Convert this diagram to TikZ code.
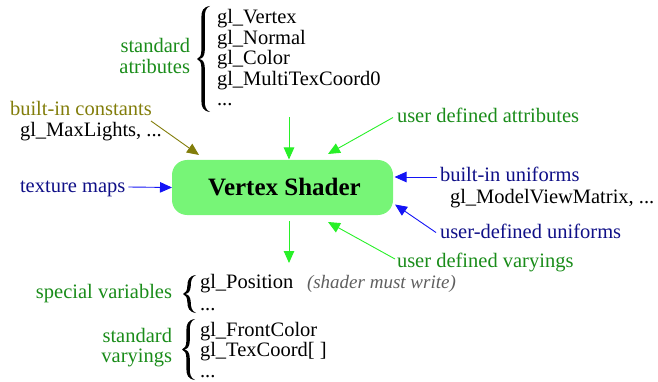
\documentclass[tikz,border=0pt]{standalone}
\usepackage{fontspec}
\setmainfont{Liberation Serif}
\usetikzlibrary{arrows.meta,calc}
\definecolor{tgreen}{RGB}{25,140,25}
\definecolor{agreen}{RGB}{40,240,40}
\definecolor{tnavy}{RGB}{15,15,135}
\definecolor{ablue}{RGB}{20,20,245}
\definecolor{tolive}{RGB}{130,125,10}
\definecolor{boxgreen}{RGB}{119,245,119}
\definecolor{tgray}{RGB}{95,95,95}
% left curly brace: x of middle tip, top y, bottom y (y grows downward)
\newcommand{\mybrace}[3]{%
 \pgfmathsetmacro\bm{(#2+#3)/2}%
 \fill (#1+13,#2) .. controls (#1+6,#2+1) and (#1+4.4,#2+5) .. (#1+4.4,#2+11)
   -- (#1+4.4,\bm-9) .. controls (#1+4.4,\bm-3) and (#1+2.5,\bm-1) .. (#1,\bm)
   .. controls (#1+2.5,\bm+1) and (#1+4.4,\bm+3) .. (#1+4.4,\bm+9)
   -- (#1+4.4,#3-11) .. controls (#1+4.4,#3-5) and (#1+6,#3-1) .. (#1+13,#3)
   .. controls (#1+8.5,#3-2) and (#1+7.8,#3-6) .. (#1+7.8,#3-11)
   -- (#1+7.8,\bm+9) .. controls (#1+7.8,\bm+3) and (#1+5.5,\bm+0.6) .. (#1+2.4,\bm)
   .. controls (#1+5.5,\bm-0.6) and (#1+7.8,\bm-3) .. (#1+7.8,\bm-9)
   -- (#1+7.8,#2+11) .. controls (#1+7.8,#2+6) and (#1+8.5,#2+2) .. cycle;}
\begin{document}
\begin{tikzpicture}[x=1pt,y=-1pt,
  every node/.style={inner sep=0pt,outer sep=0pt,font=\fontsize{20.5}{20.6}\selectfont},
  txt/.style={anchor=base west},
  rtxt/.style={anchor=base east,align=right},
  shaderbox/.style={draw=none,fill=boxgreen,rounded corners=15pt,minimum width=221pt,minimum height=55pt},
  arr/.style={-{Triangle[length=12pt,width=10.5pt]},line width=0.9pt}]
\useasboundingbox (0,0) rectangle (658,382);

% main box
\node[shaderbox] (vs) at (282.5,187.5) {};
\node[anchor=base] (vst) at (284.5,196) {\fontsize{25}{26}\selectfont\bfseries Vertex Shader};

% standard attributes
\node[rtxt,text=tgreen] (sa1) at (190,53) {standard};
\node[rtxt,text=tgreen] (sa2) at (190,73.5) {atributes};
\mybrace{197}{6}{112}
\node[txt] (v1) at (217,24) {gl\_Vertex};
\node[txt] (v2) at (217,44.5) {gl\_Normal};
\node[txt] (v3) at (217,65) {gl\_Color};
\node[txt] (v4) at (217,85.5) {gl\_MultiTexCoord0};
\node[txt] (v5) at (217,106) {...};

% built-in constants
\node[txt,text=tolive] (bic) at (10,116) {built-in constants};
\node[txt] (maxl) at (20,137) {gl\_MaxLights, ...};
\coordinate (bicS) at (151,121);
\draw[arr,tolive] (bicS) -- ($(vs.north west)+(27,-5)$);

% top arrows
\coordinate (topS) at (289,117);
\draw[arr,agreen] (topS) -- (289,159.5);
\node[txt,text=tgreen] (uda) at (397,122.5) {user defined attributes};
\draw[arr,agreen] ($(uda.base west)+(-4,-5)$) -- (328,154);

% texture maps
\node[txt,text=tnavy] (tex) at (20,193) {texture maps};
\draw[arr,ablue] ($(tex.base east)+(3,-6)$) -- (vs.west |- 0,187.5);

% built-in uniforms
\node[txt,text=tnavy] (biu) at (440,182) {built-in uniforms};
\node[txt] (mvm) at (450,203.5) {gl\_ModelViewMatrix, ...};
\draw[arr,ablue] ($(biu.base west)+(-3,-5)$) -- (394.5,177);
\node[txt,text=tnavy] (udu) at (440,238.5) {user-defined uniforms};
\draw[arr,ablue] ($(udu.base west)+(-4,-6)$) -- (395,204.5);

% output arrow
\coordinate (botE) at (289,263);
\draw[arr,agreen] (289,221) -- (botE);
\node[txt,text=tgreen] (udv) at (397,267) {user defined varyings};
\draw[arr,agreen] ($(udv.base west)+(-2,-8)$) -- (328,222);

% special variables
\node[rtxt,text=tgreen] (spv) at (172,298.5) {special variables};
\mybrace{183}{275}{313}
\node[txt] (pos) at (200,288.5) {gl\_Position};
\node[txt,text=tgray] (must) at (307,288.5) {\fontsize{19}{20}\selectfont\itshape (shader must write)};
\node[txt] (pd) at (200,310) {...};

% standard varyings
\node[rtxt,text=tgreen] (sv1) at (172,342.5) {standard};
\node[rtxt,text=tgreen] (sv2) at (172,362.5) {varyings};
\mybrace{182}{319}{380}
\node[txt] (fc) at (200,336) {gl\_FrontColor};
\node[txt] (tc) at (200,356.5) {gl\_TexCoord[ ]};
\node[txt] (vd) at (200,377) {...};
\end{tikzpicture}
\end{document}
